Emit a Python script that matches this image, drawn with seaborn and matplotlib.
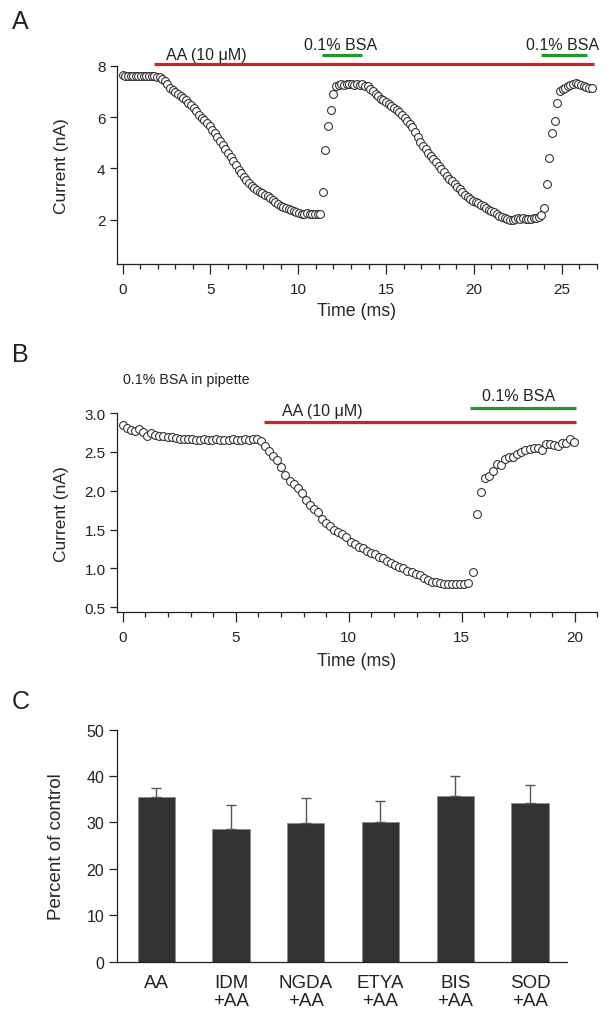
import numpy as np
import pandas as pd
import matplotlib
matplotlib.use("Agg")
import matplotlib.pyplot as plt
import seaborn as sns
from matplotlib.ticker import MultipleLocator, FormatStrFormatter

# ---- Panel A: AA wash-in / BSA wash-out, sampled every 0.15 ms ----
a_dt = 0.15
a_current = [
    7.62, 7.61, 7.61, 7.60, 7.61, 7.60, 7.60, 7.61, 7.60, 7.60,
    7.59, 7.60, 7.58, 7.57, 7.55, 7.50, 7.40, 7.27, 7.15, 7.04,
    6.97, 6.89, 6.81, 6.73, 6.65, 6.55, 6.45, 6.35, 6.22, 6.08,
    5.98, 5.88, 5.77, 5.64, 5.50, 5.36, 5.21, 5.06, 4.91, 4.76,
    4.60, 4.45, 4.29, 4.12, 3.94, 3.80, 3.66, 3.53, 3.42, 3.32,
    3.23, 3.15, 3.08, 3.03, 2.98, 2.91, 2.84, 2.77, 2.69, 2.61,
    2.55, 2.50, 2.45, 2.41, 2.37, 2.32, 2.28, 2.25, 2.23, 2.22,
    2.24, 2.21, 2.22, 2.22, 2.21, 2.23, 3.09, 4.71, 5.65, 6.26,
    6.88, 7.20, 7.25, 7.27, 7.24, 7.28, 7.27, 7.29, 7.26, 7.28,
    7.25, 7.27, 7.22, 7.20, 7.10, 7.01, 6.91, 6.82, 6.72, 6.65,
    6.58, 6.52, 6.44, 6.36, 6.27, 6.19, 6.09, 5.98, 5.86, 5.73,
    5.60, 5.40, 5.22, 5.04, 4.88, 4.74, 4.61, 4.48, 4.36, 4.23,
    4.10, 3.97, 3.85, 3.72, 3.60, 3.49, 3.39, 3.29, 3.19, 3.09,
    2.98, 2.88, 2.80, 2.74, 2.70, 2.64, 2.59, 2.53, 2.45, 2.38,
    2.33, 2.28, 2.22, 2.15, 2.09, 2.05, 2.02, 1.99, 2.00, 2.04,
    2.06, 2.03, 2.05, 2.03, 2.04, 2.02, 2.05, 2.06, 2.10, 2.19,
    2.44, 3.38, 4.41, 5.39, 5.86, 6.55, 7.03, 7.08, 7.12, 7.20,
    7.25, 7.30, 7.33, 7.30, 7.25, 7.22, 7.18, 7.15, 7.13,
]
a_aa_span = (1.76, 26.85)
a_bsa_spans = [(11.35, 13.64), (23.8, 26.45)]

# ---- Panel B: 0.1% BSA in pipette, sampled every 0.18 ms ----
b_dt = 0.18
b_current = [
    2.85, 2.81, 2.78, 2.77, 2.79, 2.76, 2.70, 2.74, 2.72, 2.71,
    2.70, 2.69, 2.69, 2.68, 2.67, 2.67, 2.66, 2.66, 2.65, 2.65,
    2.66, 2.65, 2.65, 2.66, 2.65, 2.65, 2.65, 2.66, 2.65, 2.65,
    2.66, 2.65, 2.67, 2.66, 2.64, 2.58, 2.51, 2.45, 2.39, 2.30,
    2.20, 2.13, 2.09, 2.04, 1.97, 1.88, 1.82, 1.77, 1.73, 1.63,
    1.58, 1.54, 1.49, 1.47, 1.44, 1.40, 1.34, 1.31, 1.28, 1.26,
    1.23, 1.20, 1.18, 1.15, 1.13, 1.10, 1.07, 1.05, 1.02, 1.00,
    0.97, 0.96, 0.93, 0.91, 0.88, 0.85, 0.83, 0.82, 0.81, 0.80,
    0.80, 0.80, 0.80, 0.80, 0.80, 0.81, 0.96, 1.70, 1.98, 2.16,
    2.19, 2.26, 2.34, 2.33, 2.41, 2.43, 2.44, 2.47, 2.50, 2.52,
    2.54, 2.55, 2.55, 2.52, 2.60, 2.60, 2.59, 2.58, 2.61, 2.62,
    2.67, 2.63,
]
b_aa_span = (6.25, 20.07)
b_bsa_span = (15.36, 20.07)

# ---- Panel C: percent of control ----
c_groups = ["AA", "IDM\n+AA", "NGDA\n+AA", "ETYA\n+AA", "BIS\n+AA", "SOD\n+AA"]
c_mean = [35.4, 28.7, 29.9, 30.1, 35.7, 34.3]
c_sem = [2.1, 5.1, 5.4, 4.6, 4.3, 3.7]

RED = "#d51f26"
GREEN = "#1c9a2a"
INK = "#222222"

sns.set_style("ticks")
plt.rcParams["font.family"] = ["Liberation Sans", "DejaVu Sans"]
plt.rcParams["axes.edgecolor"] = INK
plt.rcParams["axes.linewidth"] = 0.9
plt.rcParams["xtick.color"] = INK
plt.rcParams["ytick.color"] = INK
plt.rcParams["text.color"] = INK

fig = plt.figure(figsize=(6.14, 10.12), dpi=100)


def style_trace_axes(ax):
    sns.despine(ax=ax)
    ax.tick_params(axis="x", which="major", length=7, width=0.9, pad=6, labelsize=11)
    ax.tick_params(axis="x", which="minor", length=3.6, width=0.9)
    ax.tick_params(axis="y", which="major", length=5, width=0.9, pad=3, labelsize=11)
    ax.xaxis.set_major_locator(MultipleLocator(5))
    ax.xaxis.set_minor_locator(MultipleLocator(1))
    ax.set_xlabel("Time (ms)", fontsize=12.8)
    ax.set_ylabel("Current (nA)", fontsize=12.5)


def trace(ax, values, dt):
    df = pd.DataFrame({"t": np.arange(len(values)) * dt, "i": values})
    sns.scatterplot(data=df, x="t", y="i", ax=ax, marker="o", s=32,
                    facecolor="white", edgecolor="#2a2a2a", linewidth=0.75,
                    clip_on=False, zorder=3)


# ---------------- A ----------------
axA = fig.add_axes([0.190, 0.7381, 0.782, 0.196])
trace(axA, a_current, a_dt)
axA.set_xlim(-0.34, 27)
axA.set_ylim(0.27, 8)
axA.set_yticks([2, 4, 6, 8])
style_trace_axes(axA)
axA.xaxis.set_label_coords(0.5, -0.19)
axA.yaxis.set_label_coords(-0.10, 0.5)
axA.plot(a_aa_span, [8.07, 8.07], color=RED, lw=2.3, clip_on=False, solid_capstyle="butt")
for x0, x1 in a_bsa_spans:
    axA.plot([x0, x1], [8.41, 8.41], color=GREEN, lw=2.3, clip_on=False, solid_capstyle="butt")
    axA.text((x0 + x1) / 2 - 0.1, 8.84, "0.1% BSA", ha="center", va="center", fontsize=11.5)
axA.text(4.77, 8.45, "AA (10 \u03bcM)", ha="center", va="center", fontsize=11.5)

# ---------------- B ----------------
axB = fig.add_axes([0.190, 0.3940, 0.7828, 0.1969])
trace(axB, b_current, b_dt)
axB.set_xlim(-0.27, 21)
axB.set_ylim(0.436, 3.0)
axB.set_yticks([0.5, 1.0, 1.5, 2.0, 2.5, 3.0])
axB.yaxis.set_major_formatter(FormatStrFormatter("%.1f"))
style_trace_axes(axB)
axB.xaxis.set_label_coords(0.5, -0.20)
axB.yaxis.set_label_coords(-0.10, 0.5)
axB.plot(b_aa_span, [2.89, 2.89], color=RED, lw=2.3, clip_on=False, solid_capstyle="butt")
axB.plot(b_bsa_span, [3.07, 3.07], color=GREEN, lw=2.3, clip_on=False, solid_capstyle="butt")
axB.text(8.83, 3.03, "AA (10 \u03bcM)", ha="center", va="center", fontsize=11.5)
axB.text(17.52, 3.22, "0.1% BSA", ha="center", va="center", fontsize=11.5)
axB.text(0.0, 3.44, "0.1% BSA in pipette", ha="left", va="center", fontsize=10.3)

# ---------------- C ----------------
axC = fig.add_axes([0.190, 0.0487, 0.734, 0.2293])
df_c = pd.DataFrame({"group": c_groups, "pct": c_mean})
sns.barplot(data=df_c, x="group", y="pct", ax=axC, color="#333333", saturation=1,
            width=0.5, edgecolor="#8a8a8a", linewidth=0.6)
axC.errorbar(np.arange(len(c_mean)), c_mean, yerr=[np.zeros(len(c_sem)), c_sem],
             fmt="none", ecolor="#555555", elinewidth=1.0, capsize=3.6, capthick=1.0, zorder=1)
axC.set_xlim(-0.53, 5.5)
axC.set_ylim(0, 50)
axC.set_yticks(range(0, 51, 10))
sns.despine(ax=axC)
axC.tick_params(axis="x", length=0, pad=9, labelsize=13.5)
axC.tick_params(axis="y", length=6, width=0.9, pad=3, labelsize=11.5)
for lab in axC.get_xticklabels():
    lab.set_linespacing(1.05)
axC.set_xlabel("")
axC.set_ylabel("Percent of control", fontsize=13.5)
axC.yaxis.set_label_coords(-0.115, 0.5)

# panel letters
for letter, ypx in [("A", 22), ("B", 355), ("C", 702)]:
    fig.text(12 / 614, 1 - ypx / 1012, letter, fontsize=18, va="center", ha="left")

fig.savefig("out.png", dpi=100)
